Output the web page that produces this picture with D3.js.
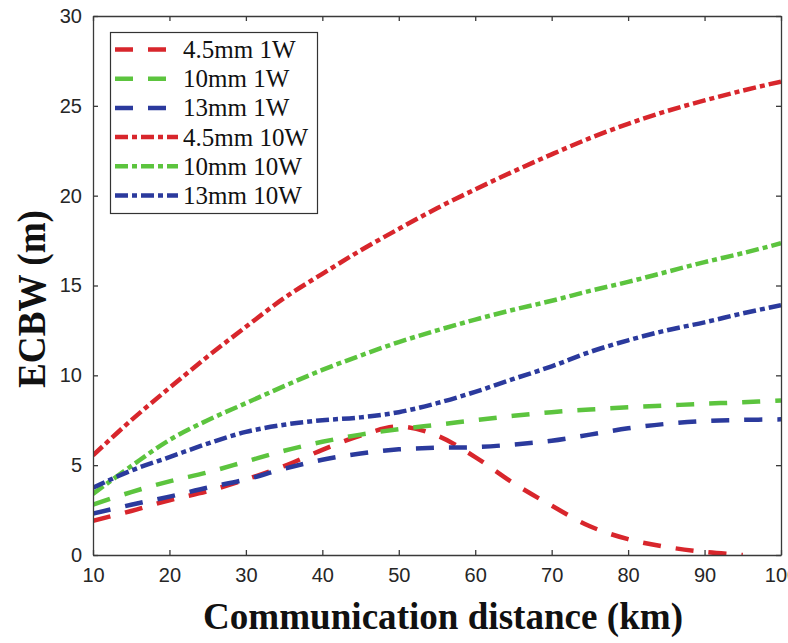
<!DOCTYPE html>
<html>
<head>
<meta charset="utf-8">
<script src="https://cdn.jsdelivr.net/npm/d3@7"></script>
<style>
  body { margin: 0; background: #fff; }
  svg { display: block; }
</style>
</head>
<body>
<svg class="chart"></svg>
<script>
// values, every 5 km
const distance = [10, 15, 20, 25, 30, 35, 40, 45, 50, 55, 60, 65, 70, 75, 80, 85, 90, 95, 100]

const mm45_1W  = [1.9, 2.45, 3.05, 3.55, 4.2, 4.95, 5.85, 6.65, 7.15, 6.65, 5.45, 4.0, 2.75, 1.6, 0.88, 0.45, 0.17, 0.0, null]
const mm10_1W  = [2.8, 3.5, 4.1, 4.6, 5.2, 5.8, 6.3, 6.7, 7.0, 7.25, 7.5, 7.75, 7.95, 8.1, 8.22, 8.32, 8.42, 8.5, 8.6]
const mm13_1W  = [2.3, 2.8, 3.25, 3.75, 4.2, 4.8, 5.3, 5.65, 5.88, 5.97, 6.0, 6.15, 6.36, 6.7, 7.05, 7.3, 7.46, 7.52, 7.55]
const mm45_10W = [5.55, 7.5, 9.3, 11.05, 12.7, 14.3, 15.65, 16.95, 18.15, 19.3, 20.35, 21.35, 22.3, 23.2, 24.0, 24.7, 25.3, 25.85, 26.35]
const mm10_10W = [3.4, 4.95, 6.4, 7.5, 8.45, 9.4, 10.3, 11.1, 11.85, 12.5, 13.1, 13.65, 14.15, 14.7, 15.2, 15.75, 16.3, 16.8, 17.35]
const mm13_10W = [3.75, 4.7, 5.45, 6.2, 6.85, 7.25, 7.5, 7.66, 7.95, 8.45, 9.08, 9.8, 10.5, 11.3, 11.95, 12.5, 12.95, 13.45, 13.9]

const legendNames = ["4.5mm 1W", "10mm 1W", "13mm 1W", "4.5mm 10W", "10mm 10W", "13mm 10W"]
const xTicks = [10, 20, 30, 40, 50, 60, 70, 80, 90, 100]
const yTicks = [0, 5, 10, 15, 20, 25, 30]

const red = "#d8262c", green = "#5cc43e", blue = "#2b3a9d"
const dashed = "18,15"
const dashDot = "13,4,5,4"

const series = [
  {name: legendNames[0], values: mm45_1W,  color: red,   dash: dashed},
  {name: legendNames[1], values: mm10_1W,  color: green, dash: dashed},
  {name: legendNames[2], values: mm13_1W,  color: blue,  dash: dashed},
  {name: legendNames[3], values: mm45_10W, color: red,   dash: dashDot},
  {name: legendNames[4], values: mm10_10W, color: green, dash: dashDot},
  {name: legendNames[5], values: mm13_10W, color: blue,  dash: dashDot}
]

const width = 788, height = 643
const margin = {top: 16, right: 7, bottom: 88, left: 93}

const x = d3.scaleLinear()
  .domain([10, 100])
  .range([margin.left, width - margin.right])

const y = d3.scaleLinear()
  .domain([0, 30])
  .range([height - margin.bottom, margin.top])

const svg = d3.select("svg.chart")
  .attr("width", width)
  .attr("height", height)
  .attr("viewBox", [0, 0, width, height])

const line = d3.line()
  .defined(d => d != null)
  .x((d, i) => x(distance[i]))
  .y(d => y(d))
  .curve(d3.curveCatmullRom.alpha(0.5))

// clip so nothing spills past the frame
svg.append("clipPath").attr("id", "plot")
  .append("rect")
  .attr("x", x(10)).attr("y", y(30) - 3)
  .attr("width", x(100) - x(10)).attr("height", y(0) - y(30) + 3)

svg.append("g")
    .attr("clip-path", "url(#plot)")
    .attr("fill", "none")
    .attr("stroke-width", 4.5)
  .selectAll("path")
  .data(series)
  .join("path")
    .attr("stroke", d => d.color)
    .attr("stroke-dasharray", d => d.dash)
    .attr("d", d => line(d.values))

// axes: ticks point inwards on all four sides
const axisColor = "#3a3a3a"
const tickFont = g => g
  .attr("font-family", "'Liberation Sans', Arial, sans-serif")
  .attr("font-size", 20)
  .call(g => g.selectAll(".tick text").attr("fill", "#262626"))
  .call(g => g.selectAll("line, path").attr("stroke", axisColor).attr("stroke-width", 1.3))

svg.append("g")
  .attr("transform", `translate(0,${y(0)})`)
  .call(d3.axisBottom(x).tickValues(xTicks).tickSize(-5).tickPadding(13).tickSizeOuter(0))
  .call(tickFont)

svg.append("g")
  .attr("transform", `translate(${x(10)},0)`)
  .call(d3.axisLeft(y).tickValues(yTicks).tickSize(-5).tickPadding(11).tickSizeOuter(0))
  .call(tickFont)

svg.append("g")
  .attr("transform", `translate(0,${y(30)})`)
  .call(d3.axisTop(x).tickValues(xTicks).tickSize(-5).tickFormat("").tickSizeOuter(0))
  .call(tickFont)

svg.append("g")
  .attr("transform", `translate(${x(100)},0)`)
  .call(d3.axisRight(y).tickValues(yTicks).tickSize(-5).tickFormat("").tickSizeOuter(0))
  .call(tickFont)

// axis titles
svg.append("text")
  .attr("x", 443)
  .attr("y", 629)
  .attr("text-anchor", "middle")
  .attr("font-family", "'Liberation Serif', 'Times New Roman', serif")
  .attr("font-weight", "bold")
  .attr("font-size", 38)
  .attr("textLength", 480)
  .attr("lengthAdjust", "spacingAndGlyphs")
  .attr("fill", "#111")
  .text("Communication distance (km)")

svg.append("text")
  .attr("transform", "translate(45,299) rotate(-90)")
  .attr("text-anchor", "middle")
  .attr("font-family", "'Liberation Serif', 'Times New Roman', serif")
  .attr("font-weight", "bold")
  .attr("font-size", 40)
  .attr("textLength", 178)
  .attr("lengthAdjust", "spacingAndGlyphs")
  .attr("fill", "#111")
  .text("ECBW (m)")

// legend
const legend = svg.append("g")

legend.append("rect")
  .attr("x", 110.5).attr("y", 32.5)
  .attr("width", 207).attr("height", 181)
  .attr("fill", "#fff")
  .attr("stroke", "#333")
  .attr("stroke-width", 1.2)

const item = legend.selectAll("g")
  .data(series)
  .join("g")
    .attr("transform", (d, i) => `translate(0,${49.5 + i * 29.2})`)

item.append("line")
  .attr("x1", 115).attr("x2", 178)
  .attr("stroke", d => d.color)
  .attr("stroke-width", 4.5)
  .attr("stroke-dasharray", d => d.dash)

item.append("text")
  .attr("x", 183)
  .attr("y", 8.5)
  .attr("font-family", "'Liberation Serif', 'Times New Roman', serif")
  .attr("font-size", 25)
  .attr("fill", "#111")
  .text(d => d.name)
</script>
</body>
</html>
